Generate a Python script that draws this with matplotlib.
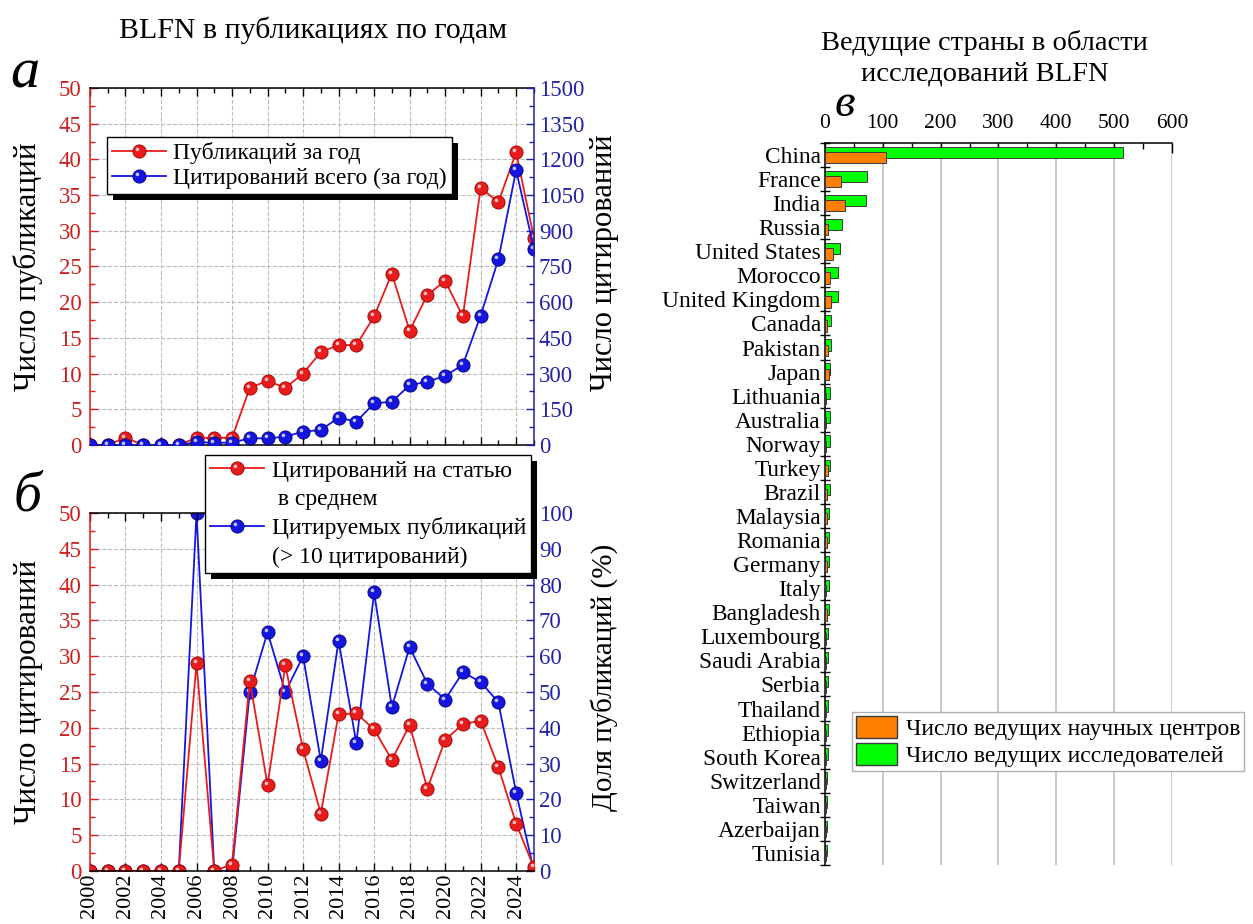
import matplotlib
matplotlib.use("Agg")
import matplotlib.pyplot as plt
import numpy as np
from matplotlib.ticker import MultipleLocator
from matplotlib.path import Path
from matplotlib.lines import Line2D
from matplotlib.patches import Rectangle, Patch
from matplotlib.transforms import IdentityTransform

plt.rcParams['font.family'] = ['Liberation Serif', 'DejaVu Serif']

# --- Data ---
years = list(range(2000, 2026))
pubs_per_year = [0, 0, 1, 0, 0, 0, 1, 1, 1, 8, 9, 8, 10, 13, 14, 14, 18, 24, 16, 21, 23, 18, 36, 34, 41, 29]
cites_per_year = [0, 0, 0, 0, 0, 0, 12, 10, 10, 28, 28, 35, 56, 63, 115, 98, 175, 182, 251, 266, 290, 337,
                  544, 780, 1155, 825]
cites_per_paper = [0, 0, 0, 0, 0, 0, 29.0, 0, 0.9, 26.6, 12.0, 28.7, 17.0, 8.0, 21.9, 22.0, 19.8, 15.5, 20.4,
                   11.5, 18.3, 20.5, 21.0, 14.5, 6.6, 0.5]
share_cited = [0, 0, 0, 0, 0, 0, 100, 0, 0, 50, 66.7, 50, 60, 30.8, 64.3, 35.7, 77.8, 45.8, 62.5, 52.3, 47.9,
               55.5, 52.8, 47.1, 21.9, 0]

countries = ['China', 'France', 'India', 'Russia', 'United States', 'Morocco', 'United Kingdom', 'Canada',
             'Pakistan', 'Japan', 'Lithuania', 'Australia', 'Norway', 'Turkey', 'Brazil', 'Malaysia', 'Romania',
             'Germany', 'Italy', 'Bangladesh', 'Luxembourg', 'Saudi Arabia', 'Serbia', 'Thailand', 'Ethiopia',
             'South Korea', 'Switzerland', 'Taiwan', 'Azerbaijan', 'Tunisia']
researchers = [516, 73, 71, 29, 26, 23, 23, 11, 11, 9, 9, 9, 9, 9, 8, 7, 7, 7, 7, 7, 6, 6, 6, 6, 5, 5, 4, 4, 4, 4]
centers = [106, 28, 35, 6, 14, 8, 11, 4, 6, 7, 2, 2, 1, 6, 3, 3, 3, 3, 2, 3, 2, 2, 2, 1, 2, 2, 1, 2, 2, 2]

RED = '#e81c1c'
RED_DARK = '#9e0000'
RED_TXT = '#cc2020'
BLUE = '#1515e0'
BLUE_DARK = '#00007a'
BLUE_TXT = '#2222a8'
GRID = '#bdbdbd'

# highlight spot to make markers look like little balls
spot = Path.circle((-1.5, 1.5), 1.3)


def ball_line(ax, x, y, color, dark):
    line, = ax.plot(x, y, color=color, lw=1.3, marker='o', ms=9.5, mfc=color, mec=dark, mew=0.6)
    hl, = ax.plot(x, y, ls='none', marker=spot, ms=5.6, mfc='white', mew=0, alpha=0.75)
    return (line, hl)


def style_left_axes(ax, ax2, ymax_l, step_l, ymax_r, step_r):
    ax.set_xlim(2000, 2025)
    ax.set_ylim(0, ymax_l)
    ax2.set_ylim(0, ymax_r)
    ax.xaxis.set_major_locator(MultipleLocator(2))
    ax.xaxis.set_minor_locator(MultipleLocator(1))
    ax.yaxis.set_major_locator(MultipleLocator(step_l))
    ax.yaxis.set_minor_locator(MultipleLocator(step_l / 2))
    ax2.yaxis.set_major_locator(MultipleLocator(step_r))
    ax2.yaxis.set_minor_locator(MultipleLocator(step_r / 2))
    ax.tick_params(axis='x', which='both', direction='in', top=True, width=1.0)
    ax.tick_params(axis='x', which='major', length=6)
    ax.tick_params(axis='x', which='minor', length=3.5)
    ax.tick_params(axis='y', which='both', direction='in', color=RED, labelcolor=RED_TXT, width=1.0,
                   labelsize=16.5, pad=6)
    ax.tick_params(axis='y', which='major', length=6)
    ax.tick_params(axis='y', which='minor', length=3.5)
    ax2.tick_params(axis='y', which='both', direction='in', color=BLUE_TXT, labelcolor=BLUE_TXT, width=1.0,
                    labelsize=16.5)
    ax2.tick_params(axis='y', which='major', length=6)
    ax2.tick_params(axis='y', which='minor', length=3.5)
    ax.spines['left'].set_color(RED)
    ax.spines['right'].set_visible(False)
    ax2.spines['left'].set_visible(False)
    ax2.spines['right'].set_color(BLUE_TXT)
    for sp in ['top', 'bottom']:
        ax2.spines[sp].set_visible(False)
    for s in list(ax.spines.values()) + list(ax2.spines.values()):
        s.set_linewidth(1.1)


def add_shadow(fig, ax, leg, off=6):
    fig.canvas.draw()
    bb = leg.get_window_extent()
    ax.add_patch(Rectangle((bb.x0 + off, bb.y0 - off), bb.width, bb.height, transform=IdentityTransform(),
                           facecolor='black', edgecolor='none', clip_on=False, zorder=4.5))


fig = plt.figure(figsize=(12.53, 9.24), dpi=100)

# --- Titles and panel letters ---
fig.text(0.250, 0.967, 'BLFN в публикациях по годам', ha='center', va='center', fontsize=21.5)
fig.text(0.786, 0.937, 'Ведущие страны в области\nисследований BLFN', ha='center', va='center',
         fontsize=20.5, linespacing=1.32)
fig.text(0.020, 0.905, 'а', style='italic', fontsize=42, ha='center', va='baseline')
fig.text(0.022, 0.448, 'б', style='italic', fontsize=40, ha='center', va='baseline')
fig.text(0.674, 0.8745, 'в', style='italic', fontsize=34, ha='center', va='baseline')

# --- Plot a: publications and citations per year ---
ax1 = fig.add_axes([0.0718, 0.5184, 0.3543, 0.3864])
ax1b = ax1.twinx()
h_pub = ball_line(ax1, years, pubs_per_year, RED, RED_DARK)
h_cit = ball_line(ax1b, years, cites_per_year, BLUE, BLUE_DARK)
style_left_axes(ax1, ax1b, 50, 5, 1500, 150)
ax1.tick_params(labelbottom=False)
ax1.grid(True, which='major', linestyle='--', color=GRID, lw=0.8)
ax1.set_ylabel('Число публикаций', fontsize=22.5)
ax1.yaxis.set_label_coords(-0.105, 0.5)
ax1b.set_ylabel('Число цитирований', fontsize=22)
ax1b.yaxis.set_label_coords(1.126, 0.51)

leg1 = ax1b.legend([h_pub, h_cit], ['Публикаций за год', 'Цитирований всего (за год)'],
                   loc='upper left', bbox_to_anchor=(0.038, 0.863), borderaxespad=0, fontsize=17,
                   fancybox=False, edgecolor='black', framealpha=1, handlelength=2.3, handletextpad=0.3,
                   labelspacing=0.15, borderpad=0.22)
leg1.get_frame().set_linewidth(1.0)
leg1.set_zorder(5)

# --- Plot b: citations per paper and share of cited papers ---
ax2 = fig.add_axes([0.0718, 0.0574, 0.3543, 0.3874])
ax2b = ax2.twinx()
ax2.set_zorder(ax2b.get_zorder() + 1)
ax2.patch.set_visible(False)
ax2b.patch.set_visible(True)
ax2b.patch.set_facecolor('white')
h_cpp = ball_line(ax2, years, cites_per_paper, RED, RED_DARK)
h_share = ball_line(ax2b, years, share_cited, BLUE, BLUE_DARK)
style_left_axes(ax2, ax2b, 50, 5, 100, 10)
ax2.tick_params(axis='x', labelsize=16, labelrotation=90, pad=2)
# grid lives on the lower twin so it stays behind both lines
ax2b.xaxis.set_visible(True)
ax2b.tick_params(axis='x', which='both', bottom=False, top=False, labelbottom=False, labeltop=False)
ax2b.grid(True, which='major', linestyle='--', color=GRID, lw=0.8)
ax2.set_ylabel('Число цитирований', fontsize=22.5)
ax2.yaxis.set_label_coords(-0.105, 0.5)
ax2b.set_ylabel('Доля публикаций (%)', fontsize=21)
ax2b.yaxis.set_label_coords(1.126, 0.54)

blank = Line2D([], [], color='none')
leg2 = ax2.legend([h_cpp, blank, h_share, blank],
                  ['Цитирований на статью', ' в среднем', 'Цитируемых публикаций', '(> 10 цитирований)'],
                  loc='upper left', bbox_to_anchor=(0.259, 1.162), borderaxespad=0, fontsize=17,
                  fancybox=False, edgecolor='black', framealpha=1, handlelength=2.3, handletextpad=0.3,
                  labelspacing=0.3, borderpad=0.22)
leg2.get_frame().set_linewidth(1.0)
leg2.set_zorder(5)

# --- Plot c: leading countries ---
ax3 = fig.add_axes([0.6584, 0.0639, 0.2769, 0.7814])
ypos = np.arange(len(countries))
ax3.barh(ypos - 0.11, researchers, height=0.47, color='#00ff00', edgecolor='#3a3a3a', lw=0.7, zorder=2)
ax3.barh(ypos + 0.11, centers, height=0.47, color='#ff7f00', edgecolor='#3a3a3a', lw=0.7, zorder=3)
ax3.set_xlim(0, 600)
ax3.set_ylim(len(countries) - 0.5, -0.5)
ax3.xaxis.tick_top()
ax3.xaxis.set_major_locator(MultipleLocator(100))
ax3.xaxis.set_minor_locator(MultipleLocator(50))
ax3.tick_params(axis='x', which='both', direction='in', labelsize=15.5, width=1.0, pad=7)
ax3.tick_params(axis='x', which='major', length=7)
ax3.tick_params(axis='x', which='minor', length=4)
ax3.set_yticks(np.arange(len(countries) + 1) - 0.5)
ax3.set_yticks(ypos, labels=countries, minor=True)
ax3.tick_params(axis='y', which='major', direction='inout', length=7, width=1.0, labelleft=False)
ax3.tick_params(axis='y', which='minor', length=0, labelsize=16.8, pad=3)
ax3.spines['right'].set_visible(False)
ax3.spines['bottom'].set_visible(False)
ax3.spines['left'].set_linewidth(1.1)
ax3.spines['top'].set_linewidth(1.1)
ax3.grid(True, axis='x', which='major', color='#c4c4c4', lw=1.3, zorder=0)
ax3.set_axisbelow(True)
ax3.xaxis.get_gridlines()[-1].set_visible(False)

leg3 = ax3.legend([Patch(facecolor='#ff7f00', edgecolor='#3a3a3a'), Patch(facecolor='#00ff00', edgecolor='#3a3a3a')],
                  ['Число ведущих научных центров', 'Число ведущих исследователей'],
                  loc='upper left', bbox_to_anchor=(0.078, 0.212), borderaxespad=0, fontsize=17,
                  fancybox=False, edgecolor='#b0b0b0', framealpha=1, handlelength=1.75, handleheight=1.05,
                  handletextpad=0.35, labelspacing=0.15, borderpad=0.17)

add_shadow(fig, ax1b, leg1)
add_shadow(fig, ax2, leg2)

fig.savefig('out.png', dpi=100)
